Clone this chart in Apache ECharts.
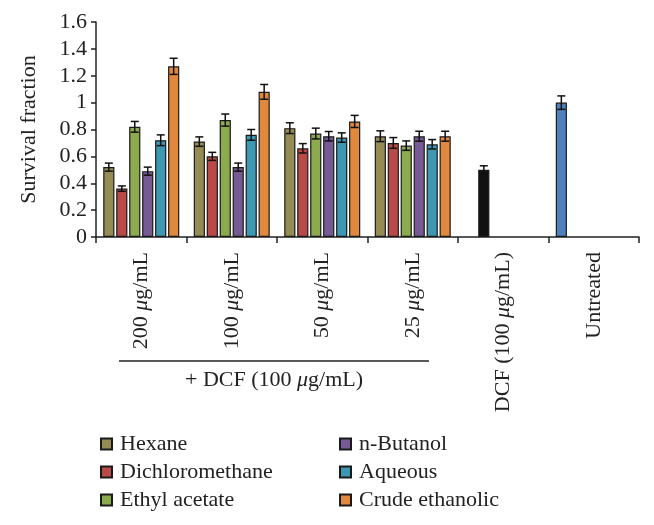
<!DOCTYPE html>
<html>
<head>
<meta charset="utf-8">
<title>Survival fraction</title>
<script src="https://cdn.jsdelivr.net/npm/echarts@6/dist/echarts.min.js"></script>
<style>
  html, body { margin: 0; padding: 0; background: #fff; }
  #main { width: 654px; height: 525px; }
</style>
</head>
<body>
<div id="main"></div>
<script>
// categories on the x axis
var categories = ['200 μg/mL', '100 μg/mL', '50 μg/mL', '25 μg/mL', 'DCF (100 μg/mL)', 'Untreated'];
var seriesNames = ['Hexane', 'Dichloromethane', 'Ethyl acetate', 'n-Butanol', 'Aqueous', 'Crude ethanolic'];
var yTicks = [0, 0.2, 0.4, 0.6, 0.8, 1, 1.2, 1.4, 1.6];

// extract values (+ DCF), then DCF alone and untreated control
var hexane = [0.52, 0.71, 0.81, 0.75, null, 1.00];
var hexaneErr = [0.03, 0.035, 0.04, 0.04, null, 0.05];
var dichloromethane = [0.36, 0.60, 0.66, 0.70, 0.50, null];
var dichloromethaneErr = [0.02, 0.03, 0.035, 0.04, 0.03, null];
var ethylAcetate = [0.82, 0.87, 0.77, 0.68, null, null];
var ethylAcetateErr = [0.04, 0.045, 0.04, 0.035, null, null];
var nButanol = [0.49, 0.52, 0.75, 0.75, null, null];
var nButanolErr = [0.03, 0.03, 0.035, 0.037, null, null];
var aqueous = [0.72, 0.76, 0.74, 0.69, null, null];
var aqueousErr = [0.04, 0.04, 0.035, 0.035, null, null];
var crudeEthanolic = [1.27, 1.08, 0.86, 0.75, null, null];
var crudeEthanolicErr = [0.06, 0.055, 0.045, 0.037, null, null];

var colors = ['#958b55', '#b94a48', '#8caa4e', '#755a93', '#3d98b4', '#e0883e'];
var dcfColor = '#111111';
var untreatedColor = '#4f81bd';

var values = [hexane, dichloromethane, ethylAcetate, nButanol, aqueous, crudeEthanolic];
var errors = [hexaneErr, dichloromethaneErr, ethylAcetateErr, nButanolErr, aqueousErr, crudeEthanolicErr];

var FONT = '"Liberation Serif", "DejaVu Serif", serif';
var FS = 22;
var CAT_GAP = 0.16, BAR_GAP = 0.16;

var chart = echarts.init(document.getElementById('main'));

var series = [];
values.forEach(function (arr, s) {
  series.push({
    name: seriesNames[s],
    type: 'bar',
    barCategoryGap: (CAT_GAP * 100) + '%',
    barGap: (BAR_GAP * 100) + '%',
    itemStyle: { color: colors[s], borderColor: '#1a1a1a', borderWidth: 1.2 },
    data: arr.map(function (v, i) {
      if (v == null) return '-';
      // DCF alone and untreated were drawn in their own colours
      if (i === 4) return { value: v, itemStyle: { color: dcfColor } };
      if (i === 5) return { value: v, itemStyle: { color: untreatedColor } };
      return v;
    })
  });
});

// error bars
var errData = [];
values.forEach(function (arr, s) {
  arr.forEach(function (v, i) {
    if (v != null) errData.push([i, s, v, errors[s][i]]);
  });
});
series.push({
  type: 'custom',
  silent: true,
  z: 5,
  data: errData,
  renderItem: function (params, api) {
    var cat = api.value(0), s = api.value(1), v = api.value(2), e = api.value(3);
    var catW = api.size([1, 0])[0];
    var clusterW = catW * (1 - CAT_GAP);
    var n = values.length;
    var barW = clusterW / (n + (n - 1) * BAR_GAP);
    var center = api.coord([cat, v]);
    var x = center[0] - clusterW / 2 + s * barW * (1 + BAR_GAP) + barW / 2;
    var yHi = api.coord([cat, v + e])[1];
    var yLo = api.coord([cat, v - e])[1];
    var cap = 4;
    var st = { stroke: '#111', lineWidth: 1.5 };
    return {
      type: 'group',
      children: [
        { type: 'line', shape: { x1: x, y1: yHi, x2: x, y2: yLo }, style: st },
        { type: 'line', shape: { x1: x - cap, y1: yHi, x2: x + cap, y2: yHi }, style: st },
        { type: 'line', shape: { x1: x - cap, y1: yLo, x2: x + cap, y2: yLo }, style: st }
      ]
    };
  }
});

var legendText = { fontFamily: FONT, fontSize: FS, color: '#222', lineHeight: 22, padding: [0, 0, 0, 3] };

var option = {
  animation: false,
  backgroundColor: '#fff',
  textStyle: { fontFamily: FONT, color: '#222' },
  grid: { left: 96, right: 15, top: 22, bottom: 288 },
  legend: [{
    data: seriesNames.slice(0, 3),
    orient: 'vertical',
    left: 95, top: 428,
    icon: 'rect', itemWidth: 11, itemHeight: 11, itemGap: 6,
    textStyle: legendText
  }, {
    data: seriesNames.slice(3),
    orient: 'vertical',
    left: 334, top: 428,
    icon: 'rect', itemWidth: 11, itemHeight: 11, itemGap: 6,
    textStyle: legendText
  }],
  xAxis: {
    type: 'category',
    data: categories,
    axisLine: { lineStyle: { color: '#222', width: 1.5 } },
    axisTick: { show: true, length: 6, lineStyle: { color: '#222', width: 1.5 } },
    axisLabel: {
      interval: 0,
      rotate: 90,
      margin: 15,
      fontFamily: FONT, fontSize: FS, color: '#222',
      formatter: function (v) { return v.replace('μ', '{i|μ}'); },
      rich: { i: { fontFamily: FONT, fontSize: FS, fontStyle: 'italic', color: '#222' } }
    }
  },
  yAxis: {
    type: 'value',
    min: yTicks[0],
    max: yTicks[yTicks.length - 1],
    interval: 0.2,
    name: 'Survival fraction',
    nameLocation: 'middle',
    nameGap: 56,
    nameTextStyle: { fontFamily: FONT, fontSize: FS, color: '#222' },
    axisLine: { show: true, lineStyle: { color: '#222', width: 1.5 } },
    axisTick: { show: true, length: 5, lineStyle: { color: '#222', width: 1.5 } },
    splitLine: { show: false },
    axisLabel: {
      margin: 9,
      fontFamily: FONT, fontSize: FS, color: '#222',
      formatter: function (v) { return String(+v.toFixed(1)); }
    }
  },
  graphic: [
    { type: 'line', shape: { x1: 119, y1: 361, x2: 429, y2: 361 }, style: { stroke: '#222', lineWidth: 1.5 } },
    {
      type: 'text', x: 274, y: 380,
      style: {
        text: '+ DCF (100 {i|μ}g/mL)',
        rich: { i: { fontStyle: 'italic', fontFamily: FONT, fontSize: FS, fill: '#222' } },
        font: FS + 'px ' + FONT, fill: '#222', align: 'center', verticalAlign: 'middle'
      }
    }
  ],
  series: series
};

chart.setOption(option);
</script>
</body>
</html>
